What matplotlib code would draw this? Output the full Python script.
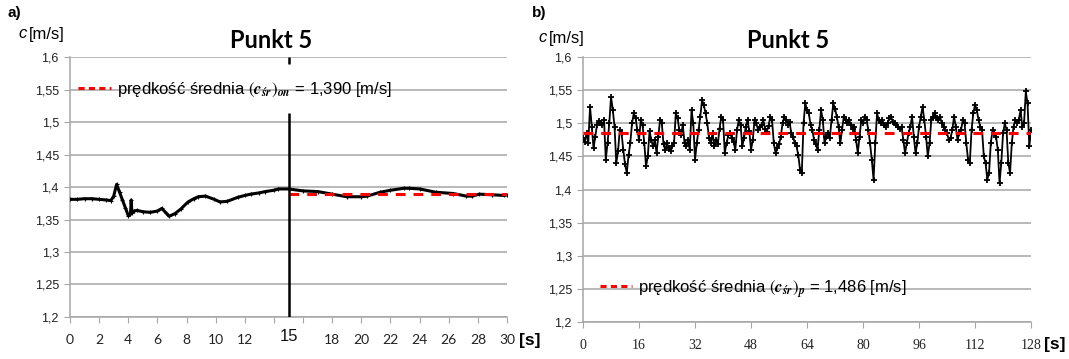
import matplotlib.pyplot as plt
from matplotlib.lines import Line2D
import numpy as np

# --- data ---
# a) on-line measurement, 0-30 s
t_on = [0.0, 0.5, 1.0, 1.5, 2.0, 2.5, 2.8, 3.0, 3.2, 3.4, 3.6, 3.8, 4.0, 4.15,
        4.2, 4.25, 4.4, 4.6, 5.0, 5.5, 6.0, 6.3, 6.6, 6.8, 7.2, 7.6, 8.1, 8.5,
        8.8, 9.3, 9.9, 10.3, 10.8, 11.5, 12.0, 12.4, 13.0, 13.4, 14.0, 14.3,
        15.0, 16.0, 17.0, 18.0, 19.0, 20.0, 20.4, 21.3, 22.0, 22.9, 23.3, 24.0,
        25.1, 26.3, 27.2, 27.6, 28.1, 29.0, 29.8, 30.0]
c_on = [1.381, 1.381, 1.382, 1.382, 1.381, 1.380, 1.379, 1.386, 1.404, 1.392,
        1.380, 1.368, 1.356, 1.358, 1.380, 1.360, 1.363, 1.364, 1.362, 1.361,
        1.363, 1.367, 1.360, 1.355, 1.359, 1.366, 1.377, 1.382, 1.385, 1.386,
        1.381, 1.377, 1.378, 1.384, 1.387, 1.389, 1.391, 1.393, 1.395, 1.397,
        1.397, 1.394, 1.393, 1.389, 1.385, 1.385, 1.386, 1.392, 1.395, 1.398,
        1.398, 1.397, 1.392, 1.390, 1.386, 1.386, 1.389, 1.388, 1.387, 1.388]

# b) p measurement, 0-128 s every 0.5 s
c_p = [
    1.478, 1.472, 1.485, 1.470, 1.525, 1.495, 1.462, 1.480, 1.498, 1.503,
    1.500, 1.497, 1.505, 1.445, 1.470, 1.500, 1.540, 1.520, 1.495, 1.440,
    1.458, 1.490, 1.485, 1.460, 1.438, 1.425, 1.452, 1.470, 1.500, 1.515,
    1.508, 1.490, 1.475, 1.505, 1.498, 1.470, 1.435, 1.450, 1.488, 1.475,
    1.465, 1.475, 1.455, 1.480, 1.505, 1.500, 1.468, 1.460, 1.470, 1.462,
    1.458, 1.465, 1.470, 1.515, 1.508, 1.490, 1.482, 1.498, 1.470, 1.465,
    1.475, 1.460, 1.520, 1.500, 1.445, 1.470, 1.490, 1.510, 1.535, 1.528,
    1.515, 1.500, 1.478, 1.470, 1.485, 1.465, 1.475, 1.468, 1.492, 1.510,
    1.505, 1.455, 1.470, 1.482, 1.485, 1.478, 1.472, 1.460, 1.490, 1.505,
    1.498, 1.465, 1.478, 1.495, 1.505, 1.488, 1.460, 1.475, 1.505, 1.500,
    1.490, 1.495, 1.498, 1.505, 1.492, 1.487, 1.496, 1.510, 1.505, 1.470,
    1.455, 1.462, 1.468, 1.480, 1.500, 1.510, 1.505, 1.498, 1.502, 1.485,
    1.480, 1.470, 1.465, 1.452, 1.430, 1.425, 1.500, 1.530, 1.520, 1.515,
    1.498, 1.490, 1.475, 1.468, 1.460, 1.490, 1.520, 1.505, 1.470, 1.480,
    1.485, 1.478, 1.505, 1.530, 1.522, 1.510, 1.495, 1.470, 1.490, 1.510,
    1.505, 1.500, 1.505, 1.498, 1.492, 1.495, 1.475, 1.455, 1.480, 1.505,
    1.500, 1.510, 1.505, 1.490, 1.470, 1.445, 1.415, 1.470, 1.515, 1.505,
    1.500, 1.505, 1.498, 1.495, 1.500, 1.508, 1.510, 1.502, 1.500, 1.497,
    1.495, 1.492, 1.495, 1.475, 1.455, 1.470, 1.485, 1.495, 1.510, 1.480,
    1.455, 1.470, 1.495, 1.510, 1.525, 1.505, 1.480, 1.450, 1.470, 1.505,
    1.510, 1.515, 1.508, 1.505, 1.510, 1.500, 1.495, 1.490, 1.485, 1.475,
    1.478, 1.490, 1.510, 1.495, 1.475, 1.485, 1.490, 1.505, 1.500, 1.470,
    1.445, 1.440, 1.490, 1.515, 1.528, 1.520, 1.505, 1.495, 1.490, 1.450,
    1.440, 1.415, 1.425, 1.470, 1.490, 1.485, 1.480, 1.460, 1.410, 1.440,
    1.485, 1.500, 1.490, 1.440, 1.425, 1.470, 1.495, 1.505, 1.500, 1.505,
    1.520, 1.495, 1.500, 1.548, 1.530, 1.465, 1.490]
t_p = np.arange(len(c_p)) * 0.5

mean_on = 1.390
mean_p = 1.486
split_t = 15
y_ticks = [1.2, 1.25, 1.3, 1.35, 1.4, 1.45, 1.5, 1.55, 1.6]
y_labels = ["1,2", "1,25", "1,3", "1,35", "1,4", "1,45", "1,5", "1,55", "1,6"]
xa_ticks = list(range(0, 31, 2))
xa_labels = ["" if v in (14, 16) else str(v) for v in xa_ticks]
xb_ticks = list(range(0, 129, 16))
label_on = r"prędkość średnia $\left(\mathbfit{c}_{\mathbfit{śr}}\right)_{\mathbfit{on}}$ = 1,390 [m/s]"
label_p = r"prędkość średnia $\left(\mathbfit{c}_{\mathbfit{śr}}\right)_{\mathbfit{p}}$ = 1,486 [m/s]"

plt.rcParams['mathtext.fontset'] = 'stix'
plt.rcParams['font.family'] = ['Liberation Sans', 'DejaVu Sans']

GRID = '#a6a6a6'


def style_axes(ax, xlim, xticks, xlabels, xfont):
    ax.set_xlim(*xlim)
    ax.set_ylim(1.2, 1.6)
    ax.set_yticks(y_ticks, y_labels)
    ax.set_xticks(xticks, xlabels)
    ax.grid(axis='y', color=GRID, lw=1.1)
    ax.set_axisbelow(True)
    for s in ('top', 'right'):
        ax.spines[s].set_visible(False)
    for s in ('left', 'bottom'):
        ax.spines[s].set_color(GRID)
        ax.spines[s].set_linewidth(1.1)
    ax.tick_params(axis='y', length=4, color=GRID, labelsize=9,
                   labelcolor='#222222', pad=4)
    ax.tick_params(axis='x', length=4, color=GRID, labelsize=10,
                   labelcolor='#222222', pad=8)
    for lab in ax.get_xticklabels():
        lab.set_family(xfont)


fig = plt.figure(figsize=(10.69, 3.59), dpi=100)
axa = fig.add_axes([0.0655, 0.117, 0.4088, 0.7242])
axb = fig.add_axes([0.5454, 0.1031, 0.4191, 0.738])

# ---- panel a ----
style_axes(axa, (0, 30), xa_ticks, xa_labels, 'Lato')
axa.set_xticks([split_t], [str(split_t)], minor=True)
axa.tick_params(axis='x', which='minor', length=0, labelsize=12, pad=9,
                labelcolor='#111111')
axa.plot(t_on, c_on, color='black', lw=2.2, marker='+', ms=3, mew=0.8,
         zorder=3)
axa.hlines(mean_on, split_t, 30, color='red', lw=2.2,
           linestyles=(0, (3.2, 2.6)), zorder=4)
axa.vlines(split_t, 1.2, 1.514, color='black', lw=1.8, zorder=5)
axa.vlines(split_t, 1.589, 1.6, color='black', lw=1.8, zorder=5)
h = Line2D([], [], color='red', lw=2.2, ls=(0, (2.0, 1.4)))
axa.legend([h], [label_on], loc='center left', bbox_to_anchor=(0.018, 0.875),
           frameon=False, handlelength=2.0, handletextpad=0.35, borderpad=0,
           borderaxespad=0, prop={'family': 'Liberation Sans', 'size': 12})

# ---- panel b ----
style_axes(axb, (0, 128), xb_ticks, [str(v) for v in xb_ticks],
           'Liberation Serif')
axb.plot(t_p, c_p, color='black', lw=1.3, marker='+', ms=4.5, mew=1.3,
         zorder=3)
axb.axhline(mean_p, color='red', lw=2.2, ls=(0, (3.2, 2.6)), zorder=4)
h = Line2D([], [], color='red', lw=2.2, ls=(0, (2.0, 1.4)))
axb.legend([h], [label_p], loc='center left', bbox_to_anchor=(0.038, 0.125),
           frameon=False, handlelength=1.9, handletextpad=0.35, borderpad=0,
           borderaxespad=0, prop={'family': 'Liberation Sans', 'size': 12})

# ---- titles and labels ----
W, H = 1069, 359
for x, lab in ((8, 'a)'), (532, 'b)')):
    fig.text(x / W, 1 - 13 / H, lab, fontsize=11, fontweight='bold',
             va='center', ha='left')
for x, y in ((18, 34), (538, 38)):
    fig.text(x / W, 1 - y / H, 'c', fontsize=12, style='italic',
             va='center', ha='left')
    fig.text((x + 11) / W, 1 - y / H, '[m/s]', fontsize=12,
             va='center', ha='left')
for x in (271, 788):
    fig.text(x / W, 1 - 40 / H, 'Punkt 5', fontsize=17, fontweight='bold',
             family='Lato', va='center', ha='center')
for x, y in ((519, 341), (1044, 345)):
    fig.text(x / W, 1 - y / H, '[s]', fontsize=12.5, fontweight='bold',
             va='center', ha='left')

fig.savefig('out.png', dpi=100)
